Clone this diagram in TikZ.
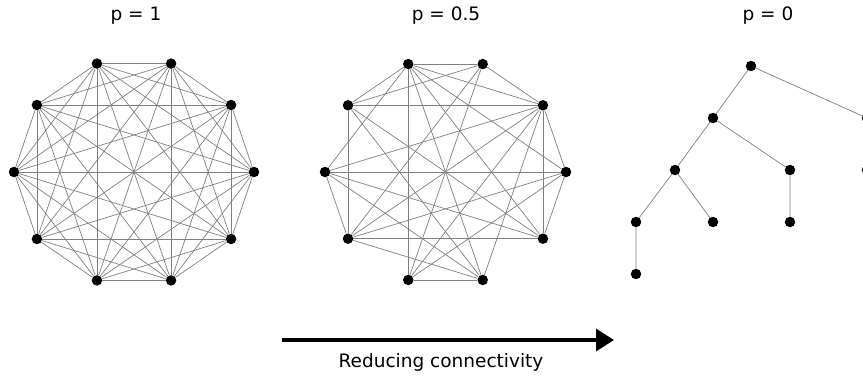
\documentclass[tikz,border=0pt]{standalone}
\usepackage{fontspec}
\setmainfont{DejaVu Sans}
\usetikzlibrary{arrows.meta}

\begin{document}
\begin{tikzpicture}[x=1pt,y=-1pt,
    dot/.style={circle,fill,inner sep=3.7pt},
    edge/.style={draw=black!50,line width=0.7pt},
    lab/.style={font=\fontsize{18.5}{22}\selectfont}]
  \clip (0,0) rectangle (863,376);

  % titles
  \node (t1) at (136,16) [lab] {p = 1};
  \node (t2) at (446,16) [lab] {p = 0.5};
  \node (t3) at (768,16) [lab] {p = 0};

  % p = 1: every pair joined
  \foreach \i in {0,...,9}
    \node (a\i) at ({134+120*cos(36*\i)},{172-114*sin(36*\i)}) [dot] {};
  \foreach \i in {0,...,8} {
    \pgfmathtruncatemacro\nxt{\i+1}
    \foreach \j in {\nxt,...,9}
      \draw[edge] (a\i) -- (a\j);
  }

  % p = 0.5: about half the edges kept
  \foreach \i in {0,...,9}
    \node (b\i) at ({445.5+120.5*cos(36*\i)},{172-113.5*sin(36*\i)}) [dot] {};
  \foreach \u/\v in {0/1,0/9,0/5,0/3,0/6,0/7,1/2,1/3,1/4,1/5,1/9,1/6,1/7,1/8,
                     2/3,2/4,2/7,2/6,3/4,3/5,3/7,3/8,3/9,4/6,4/8,4/9,
                     5/6,5/8,5/9,6/8,6/9,7/8}
    \draw[edge] (b\u) -- (b\v);

  % p = 0: a tree
  \node (r) at (751,66) [dot] {};
  \node (ra) at (713,118) [dot] {};
  \node (rb) at (867,118) [dot] {};
  \node (c) at (675,170) [dot] {};
  \node (d) at (790,170) [dot] {};
  \node (rbc) at (867,170) [dot] {};
  \node (e) at (636,222) [dot] {};
  \node (f) at (713,222) [dot] {};
  \node (g) at (790,222) [dot] {};
  \node (h) at (636,274) [dot] {};
  \draw[edge] (r) -- (ra) (r) -- (rb) (rb) -- (rbc)
              (ra) -- (c) (ra) -- (d) (c) -- (e) (c) -- (f)
              (d) -- (g) (e) -- (h);

  % arrow and caption
  \coordinate (arrS) at (282,340);
  \coordinate (arrE) at (614,340);
  \draw[line width=3.3pt,-{Triangle[length=18pt,width=22pt]}] (arrS) -- (arrE);
  \node (cap) at (441,362) [lab] {Reducing connectivity};
\end{tikzpicture}
\end{document}
